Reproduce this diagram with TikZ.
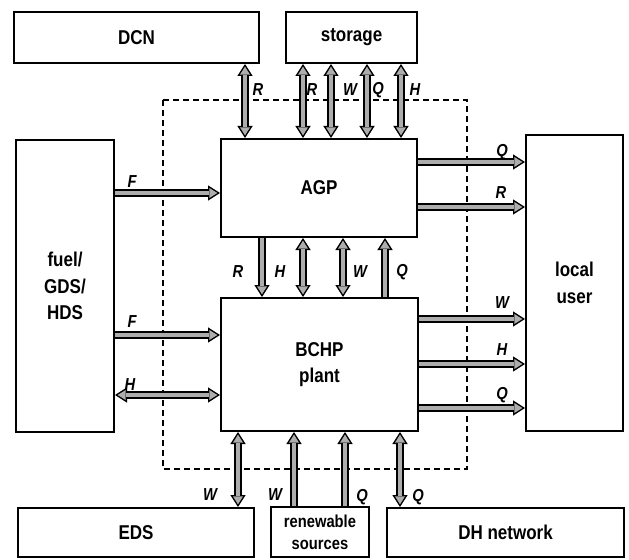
\documentclass[tikz,border=0pt]{standalone}
\usepackage{fontspec}
\setmainfont{Liberation Sans}[FakeStretch=0.85]
\usetikzlibrary{arrows.meta,calc}
\tikzset{
  box/.style={draw, line width=1.5pt, inner sep=0pt, align=center,
    font=\fontsize{15}{20}\selectfont\bfseries},
  lbl/.style={inner sep=0pt, font=\fontsize{13}{15}\selectfont\bfseries\itshape},
  fo/.style={line width=6pt, draw=black},
  fi/.style={line width=3.6pt, draw=black!32},
  fo1/.style={fo, -{Triangle[length=9pt,width=11.5pt,line width=0pt]}},
  fo2/.style={fo, {Triangle[length=9pt,width=11.5pt,line width=0pt]}-{Triangle[length=9pt,width=11.5pt,line width=0pt]}},
  fi1/.style={fi, -{Triangle[length=5.9pt,width=7.4pt,line width=0pt]}, shorten >=2pt},
  fi2/.style={fi, {Triangle[length=5.9pt,width=7.4pt,line width=0pt]}-{Triangle[length=5.9pt,width=7.4pt,line width=0pt]}, shorten >=2pt, shorten <=2pt},
  frame/.style={dash pattern=on 4.5pt off 3pt, line width=1.5pt}
}
\newcommand\aone[2]{\draw[fo1] #1 -- #2; \draw[fi1] #1 -- #2;}
\newcommand\atwo[2]{\draw[fo2] #1 -- #2; \draw[fi2] #1 -- #2;}
\begin{document}
\begin{tikzpicture}[x=0.75pt, y=-0.75pt]
\useasboundingbox (0,0) rectangle (629,560);
% dashed system boundary
\coordinate (fr1) at (163,100);
\coordinate (fr2) at (467,469);
\draw[frame] (fr1) rectangle (fr2);
% boxes
\node[box, minimum width=183.75pt, minimum height=38.25pt] (dcn) at (136.5,37.5) {DCN};
\node[box, minimum width=98.25pt, minimum height=38.25pt] (sto) at (351.5,37.5) {storage};
\node[box, minimum width=73.5pt, minimum height=219pt] (fuel) at (65,286) {fuel/\\GDS/\\HDS};
\node[box, minimum width=147pt, minimum height=73.5pt] (agp) at (319,188) {AGP};
\node[box, minimum width=147.75pt, minimum height=99.75pt] (bchp) at (319.5,364.5) {BCHP\\plant};
\node[box, minimum width=72.75pt, minimum height=222pt] (user) at (574.5,283) {local\\user};
\node[box, minimum width=177pt, minimum height=36.75pt] (eds) at (136,532.5) {EDS};
\node[box, minimum width=73.5pt, minimum height=37.5pt, font=\fontsize{13}{16.5}\selectfont\bfseries] (ren) at (320,532) {renewable\\sources};
\node[box, minimum width=177.75pt, minimum height=36.75pt] (dh) at (505.5,532.5) {DH network};
% helper coordinates
\coordinate (v1) at (245,0);
\coordinate (v2) at (303,0);
\coordinate (v3) at (331,0);
\coordinate (v4) at (367,0);
\coordinate (v5) at (401,0);
\coordinate (m1) at (262,0);
\coordinate (m2) at (303,0);
\coordinate (m3) at (343,0);
\coordinate (m4) at (385,0);
\coordinate (b1) at (238,0);
\coordinate (b2) at (294,0);
\coordinate (b3) at (345,0);
\coordinate (b4) at (400,0);
\coordinate (h1) at (0,193);
\coordinate (h2) at (0,335);
\coordinate (h3) at (0,395);
\coordinate (r1) at (0,162);
\coordinate (r2) at (0,207);
\coordinate (r3) at (0,319);
\coordinate (r4) at (0,364);
\coordinate (r5) at (0,408);
% top arrows
\atwo{(dcn.south -| v1)}{(agp.north -| v1)}
\atwo{(sto.south -| v2)}{(agp.north -| v2)}
\atwo{(sto.south -| v3)}{(agp.north -| v3)}
\atwo{(sto.south -| v4)}{(agp.north -| v4)}
\atwo{(sto.south -| v5)}{(agp.north -| v5)}
% AGP - BCHP
\aone{(agp.south -| m1)}{(bchp.north -| m1)}
\atwo{(agp.south -| m2)}{(bchp.north -| m2)}
\atwo{(agp.south -| m3)}{(bchp.north -| m3)}
\aone{(bchp.north -| m4)}{(agp.south -| m4)}
% left
\aone{(fuel.east |- h1)}{(agp.west |- h1)}
\aone{(fuel.east |- h2)}{(bchp.west |- h2)}
\atwo{(fuel.east |- h3)}{(bchp.west |- h3)}
% right
\aone{(agp.east |- r1)}{(user.west |- r1)}
\aone{(agp.east |- r2)}{(user.west |- r2)}
\aone{(bchp.east |- r3)}{(user.west |- r3)}
\aone{(bchp.east |- r4)}{(user.west |- r4)}
\aone{(bchp.east |- r5)}{(user.west |- r5)}
% bottom
\atwo{(bchp.south -| b1)}{(eds.north -| b1)}
\aone{(ren.north -| b2)}{(bchp.south -| b2)}
\aone{(ren.north -| b3)}{(bchp.south -| b3)}
\atwo{(bchp.south -| b4)}{(dh.north -| b4)}
% labels
\node[lbl] (t1) at (258,90) {R};
\node[lbl] (t2) at (312,90) {R};
\node[lbl] (t3) at (350,90) {W};
\node[lbl] (t4) at (378,90) {Q};
\node[lbl] (t5) at (415,90) {H};
\node[lbl] (c1) at (238,272) {R};
\node[lbl] (c2) at (280,272) {H};
\node[lbl] (c3) at (360,272) {W};
\node[lbl] (c4) at (402,272) {Q};
\node[lbl] (f1) at (132,182) {F};
\node[lbl] (f2) at (132,322) {F};
\node[lbl] (f3) at (130,385) {H};
\node[lbl] (u1) at (502,152) {Q};
\node[lbl] (u2) at (501,193) {R};
\node[lbl] (u3) at (502,303) {W};
\node[lbl] (u4) at (502,350) {H};
\node[lbl] (u5) at (502,395) {Q};
\node[lbl] (d1) at (210,495) {W};
\node[lbl] (d2) at (275,495) {W};
\node[lbl] (d3) at (362,497) {Q};
\node[lbl] (d4) at (418,497) {Q};
\end{tikzpicture}
\end{document}
